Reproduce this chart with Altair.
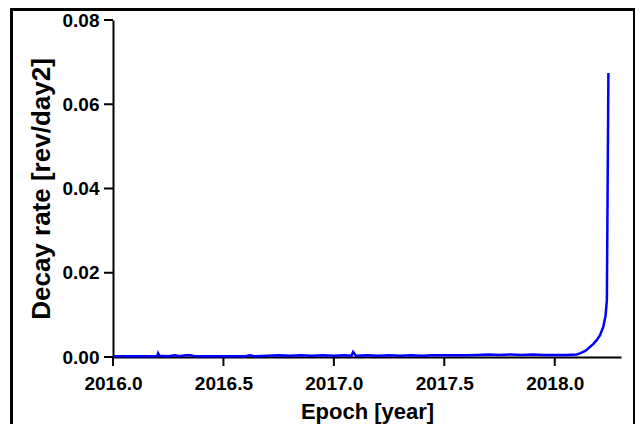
import altair as alt
import pandas as pd

epoch = [2016.00, 2016.10, 2016.20, 2016.204, 2016.21, 2016.25, 2016.28, 2016.30, 2016.33,
         2016.35, 2016.37, 2016.45, 2016.55, 2016.60, 2016.62, 2016.64, 2016.70, 2016.75,
         2016.80, 2016.85, 2016.90, 2016.95, 2017.00, 2017.05, 2017.08, 2017.087, 2017.10,
         2017.15, 2017.20, 2017.25, 2017.30, 2017.35, 2017.40, 2017.45, 2017.50, 2017.55,
         2017.60, 2017.65, 2017.70, 2017.75, 2017.80, 2017.85, 2017.90, 2017.95, 2018.00,
         2018.05, 2018.10, 2018.117, 2018.14, 2018.16, 2018.175, 2018.19, 2018.205,
         2018.22, 2018.23, 2018.236, 2018.243]
decay = [0.0002, 0.0002, 0.0002, 0.0009, 0.0003, 0.0002, 0.0004, 0.0002, 0.0004,
         0.0004, 0.0002, 0.0002, 0.0002, 0.0002, 0.0004, 0.0002, 0.0003, 0.0004,
         0.0003, 0.0004, 0.0003, 0.0004, 0.0003, 0.0004, 0.0003, 0.0012, 0.0003,
         0.0004, 0.0003, 0.0004, 0.0003, 0.0004, 0.0003, 0.0004, 0.0004, 0.0004,
         0.0004, 0.0005, 0.0006, 0.0005, 0.0006, 0.0005, 0.0006, 0.0005, 0.0005,
         0.0005, 0.0006, 0.0009, 0.0015, 0.0024, 0.0031, 0.0040, 0.0052,
         0.0072, 0.0098, 0.0135, 0.0674]

x_ticks = [2016.0, 2016.5, 2017.0, 2017.5, 2018.0]
y_ticks = [0.00, 0.02, 0.04, 0.06, 0.08]

df = pd.DataFrame({"epoch": epoch, "decay": decay})
xt = pd.DataFrame({"xt": x_ticks})
yt = pd.DataFrame({"yt": y_ticks})
one = pd.DataFrame({"k": [0]})

FONT = "Liberation Sans"
TICK = 9
W, H = 508, 337
X_DOMAIN = [2016.0, 2018.3]
Y_DOMAIN = [0, 0.08]

common = dict(
    grid=False, ticks=True, domain=True, tickOpacity=0,
    domainColor="black", domainWidth=2,
    tickColor="black", tickWidth=2, tickSize=TICK,
    labelFont=FONT, labelFontWeight="bold", labelFontSize=19, labelColor="black",
    labelFlush=False, labelOverlap=False,
    titleFont=FONT, titleFontWeight="bold", titleColor="black",
)
x_axis = alt.Axis(values=x_ticks, format=".1f", title="Epoch [year]",
                  titleFontSize=22, labelPadding=8, titlePadding=8, **common)
y_axis = alt.Axis(values=y_ticks, format=".2f", title="Decay rate [rev/day2]",
                  titleFontSize=26, labelPadding=5, titlePadding=8, **common)
x_scale = alt.Scale(domain=X_DOMAIN, nice=False, zero=False)
y_scale = alt.Scale(domain=Y_DOMAIN, nice=False, zero=False)

line = alt.Chart(df).mark_line(color="#0000ff", strokeWidth=2.5).encode(
    x=alt.X("epoch:Q", scale=x_scale, axis=x_axis),
    y=alt.Y("decay:Q", scale=y_scale, axis=y_axis),
)

# tick marks drawn as tick marks through the same (shared) scales
x_tick_marks = alt.Chart(xt).mark_tick(
    color="black", size=TICK, thickness=2, opacity=1, orient="vertical"
).encode(
    x=alt.X("xt:Q", scale=x_scale, axis=None),
    y=alt.value(H + TICK / 2))
y_tick_marks = alt.Chart(yt).mark_tick(
    color="black", size=TICK, thickness=2, opacity=1, orient="horizontal"
).encode(
    y=alt.Y("yt:Q", scale=y_scale, axis=None),
    x=alt.value(-TICK / 2))

# outer picture frame
frame_top = alt.Chart(one).mark_rect(color="black", opacity=1).encode(
    x=alt.value(-103), x2=alt.value(523), y=alt.value(-12), y2=alt.value(-9))
frame_left = alt.Chart(one).mark_rect(color="black", opacity=1).encode(
    x=alt.value(-103), x2=alt.value(-100), y=alt.value(-12), y2=alt.value(600))
frame_right = alt.Chart(one).mark_rect(color="black", opacity=1).encode(
    x=alt.value(520), x2=alt.value(523), y=alt.value(-12), y2=alt.value(600))

chart = alt.layer(
    line, x_tick_marks, y_tick_marks, frame_top, frame_left, frame_right
).resolve_axis(x="independent", y="independent").properties(
    width=W, height=H,
    autosize=alt.AutoSizeParams(type="none"),
    padding={"left": 105, "top": 12, "right": 14, "bottom": 67},
).configure_view(stroke=None)

chart.save("out.html", embed_options={"renderer": "svg", "actions": False})
